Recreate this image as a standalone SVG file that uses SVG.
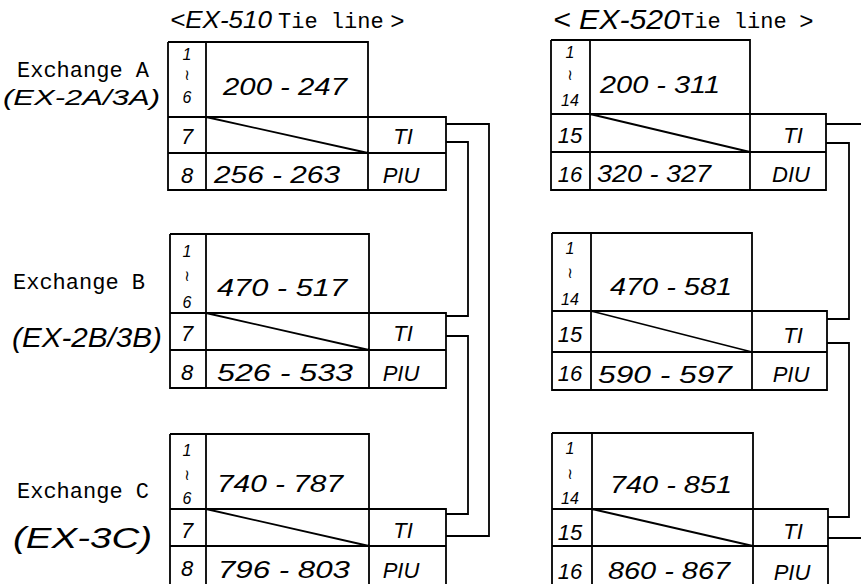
<svg xmlns="http://www.w3.org/2000/svg" width="861" height="584" viewBox="0 0 861 584">
<style>
.bx{fill:none;stroke:#000;stroke-width:1.8;stroke-linejoin:miter}
.cn{fill:none;stroke:#000;stroke-width:1.8}
.mono{font-family:"Liberation Mono","Courier New",monospace;font-size:22px;fill:#000}
.hw{font-family:"Liberation Sans",Arial,sans-serif;font-style:italic;font-size:24px;fill:#000}
.hs{font-family:"Liberation Sans",Arial,sans-serif;font-style:italic;font-size:16px;fill:#000}
.sq{font-family:"DejaVu Sans",sans-serif;font-size:15px;fill:#000;text-anchor:middle}
.rn{font-family:"Liberation Sans",Arial,sans-serif;font-style:italic;font-size:22px;fill:#000;text-anchor:middle}
.mid{text-anchor:middle}
</style>
<rect width="861" height="584" fill="#fff"/>

<!-- titles -->
<g id="title-510">
<text x="170" y="28" class="hw" textLength="102" lengthAdjust="spacingAndGlyphs">&lt;EX-510</text>
<text x="278" y="28" class="mono">Tie line</text>
<text x="390" y="29" class="hw">&gt;</text>
</g>
<g id="title-520">
<text x="553" y="29" class="hw" style="font-size:27px" textLength="127" lengthAdjust="spacingAndGlyphs">&lt; EX-520</text>
<text x="681" y="28" class="mono">Tie line</text>
<text x="799" y="29" class="hw">&gt;</text>
</g>

<!-- exchange labels -->
<g id="label-a">
<text x="17" y="77" class="mono">Exchange A</text>
<text x="3" y="105" class="hw" style="font-size:22px" textLength="157" lengthAdjust="spacingAndGlyphs">(EX-2A/3A)</text>
</g>
<g id="label-b">
<text x="13" y="289" class="mono">Exchange B</text>
<text x="12" y="347" class="hw" style="font-size:27px" textLength="150" lengthAdjust="spacingAndGlyphs">(EX-2B/3B)</text>
</g>
<g id="label-c">
<text x="17" y="498" class="mono">Exchange C</text>
<text x="13" y="548" class="hw" style="font-size:30px" textLength="139" lengthAdjust="spacingAndGlyphs">(EX-3C)</text>
</g>

<!-- left column nodes -->
<g id="ex510-a">
<path class="bx" d="M168 42 H368 V190 M168 42 V190 H446 V117 H168 M206 42 V190 M168 153 H446 M206 117 L368 153"/>
<text x="187" y="60" class="hs mid">1</text>
<text x="187" y="80" class="sq">≀</text>
<text x="187" y="103" class="hs mid">6</text>
<text x="223" y="95" class="hw" textLength="124" lengthAdjust="spacingAndGlyphs">200 - 247</text>
<text x="187" y="144" class="rn">7</text>
<text x="403" y="144" class="rn">TI</text>
<text x="187" y="183" class="rn">8</text>
<text x="214" y="183" class="hw" textLength="126" lengthAdjust="spacingAndGlyphs">256 - 263</text>
<text x="401" y="183" class="rn">PIU</text>
</g>
<g id="ex510-b">
<path class="bx" d="M170 234 H369 V388 M170 234 V388 H446 V313 H170 M206 234 V388 M170 350 H446 M206 313 L369 350"/>
<text x="187" y="257" class="hs mid">1</text>
<text x="187" y="281" class="sq">≀</text>
<text x="187" y="308" class="hs mid">6</text>
<text x="217" y="296" class="hw" textLength="130" lengthAdjust="spacingAndGlyphs">470 - 517</text>
<text x="187" y="341" class="rn">7</text>
<text x="403" y="341" class="rn">TI</text>
<text x="187" y="380" class="rn">8</text>
<text x="217" y="381" class="hw" textLength="136" lengthAdjust="spacingAndGlyphs">526 - 533</text>
<text x="401" y="381" class="rn">PIU</text>
</g>
<g id="ex510-c">
<path class="bx" d="M170 434 H369 V586 M170 434 V586 M446 586 V509 H170 M206 434 V586 M170 546 H446 M206 509 L369 546"/>
<text x="187" y="456" class="hs mid">1</text>
<text x="187" y="480" class="sq">≀</text>
<text x="187" y="504" class="hs mid">6</text>
<text x="217" y="492" class="hw" textLength="126" lengthAdjust="spacingAndGlyphs">740 - 787</text>
<text x="187" y="538" class="rn">7</text>
<text x="403" y="538" class="rn">TI</text>
<text x="187" y="576" class="rn">8</text>
<text x="218" y="578" class="hw" textLength="132" lengthAdjust="spacingAndGlyphs">796 - 803</text>
<text x="401" y="578" class="rn">PIU</text>
</g>

<!-- right column nodes -->
<g id="ex520-a">
<path class="bx" d="M551 40 H750 V190 M551 40 V190 H826 V114 H551 M590 40 V190 M551 152 H826 M590 114 L750 152"/>
<text x="570" y="58" class="hs mid">1</text>
<text x="570" y="80" class="sq">≀</text>
<text x="570" y="106" class="hs mid">14</text>
<text x="600" y="93" class="hw" textLength="120" lengthAdjust="spacingAndGlyphs">200 - 311</text>
<text x="570" y="143" class="rn">15</text>
<text x="793" y="143" class="rn">TI</text>
<text x="570" y="182" class="rn">16</text>
<text x="597" y="182" class="hw" textLength="114" lengthAdjust="spacingAndGlyphs">320 - 327</text>
<text x="791" y="182" class="rn">DIU</text>
</g>
<g id="ex520-b">
<path class="bx" d="M552 233 H752 V390 M552 233 V390 H827 V311 H552 M591 233 V390 M552 352 H827 M591 311 L752 352"/>
<text x="570" y="254" class="hs mid">1</text>
<text x="570" y="278" class="sq">≀</text>
<text x="570" y="305" class="hs mid">14</text>
<text x="610" y="295" class="hw" textLength="122" lengthAdjust="spacingAndGlyphs">470 - 581</text>
<text x="570" y="342" class="rn">15</text>
<text x="793" y="343" class="rn">TI</text>
<text x="570" y="381" class="rn">16</text>
<text x="598" y="383" class="hw" textLength="134" lengthAdjust="spacingAndGlyphs">590 - 597</text>
<text x="791" y="382" class="rn">PIU</text>
</g>
<g id="ex520-c">
<path class="bx" d="M552 433 H753 V586 M552 433 V586 M828 586 V509 H552 M592 433 V586 M552 546 H828 M592 509 L753 546"/>
<text x="570" y="454" class="hs mid">1</text>
<text x="570" y="479" class="sq">≀</text>
<text x="570" y="504" class="hs mid">14</text>
<text x="610" y="493" class="hw" textLength="122" lengthAdjust="spacingAndGlyphs">740 - 851</text>
<text x="570" y="540" class="rn">15</text>
<text x="793" y="539" class="rn">TI</text>
<text x="570" y="579" class="rn">16</text>
<text x="608" y="579" class="hw" textLength="122" lengthAdjust="spacingAndGlyphs">860 - 867</text>
<text x="792" y="580" class="rn">PIU</text>
</g>

<!-- connectors -->
<g id="connectors">
<path class="cn" d="M446 124 H489 V536 H446"/>
<path class="cn" d="M446 142 H468 V316 H446"/>
<path class="cn" d="M446 336 H468 V514 H446"/>
<path class="cn" d="M826 124 H861"/>
<path class="cn" d="M826 143 H849 V319 H827"/>
<path class="cn" d="M827 343 H849 V517 H828"/>
<path class="cn" d="M828 538 H861"/>
</g>
</svg>
